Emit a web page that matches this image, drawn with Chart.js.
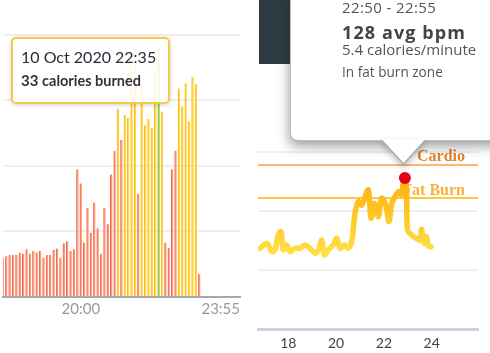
<!DOCTYPE html>
<html>
<head>
<meta charset="utf-8">
<script src="https://cdn.jsdelivr.net/npm/chart.js@4.4.1/dist/chart.umd.min.js"></script>
<style>
  body { margin:0; width:490px; height:353px; background:#fff; position:relative; overflow:hidden; font-family:Lato, sans-serif; }
  .abs { position:absolute; }
  #calWrap { left:0; top:0; width:245px; height:320px; }
  #hrWrap { left:250px; top:0; width:240px; height:353px; }
  #darkPanel { left:259px; top:0; width:32px; height:64px; background:#2d3a41; }
  #calTip { left:11px; top:37px; width:155px; height:63px; border:2px solid #f5c845; border-radius:5px;
            background:rgba(255,255,255,0.86); box-shadow:0 1px 4px rgba(0,0,0,0.18); }
  #hrTip { left:290px; top:-12px; width:230px; height:151px; border:1px solid #b9bec3; border-radius:8px;
           background:#fff; box-shadow:-1px 5px 12px rgba(30,40,50,0.45); }
  .t { position:absolute; white-space:nowrap; line-height:1; }
  .os { font-family:"Open Sans", sans-serif; }
</style>
</head>
<body>
<div id="calWrap" class="abs"><canvas id="calChart"></canvas></div>
<div id="hrWrap" class="abs"><canvas id="hrChart"></canvas></div>

<div id="darkPanel" class="abs"></div>
<div id="hrTip" class="abs"></div>
<svg class="abs" style="left:382px;top:139px;overflow:visible;filter:drop-shadow(0 3px 3px rgba(0,0,0,0.25))" width="44" height="28">
  <polygon points="0,1 21.5,25 43,1" fill="#fff"/>
  <rect x="1" y="0" width="41" height="2" fill="#fff"/>
  <polyline points="0,1.5 21.5,25 43,1.5" fill="none" stroke="#a9afb4" stroke-width="1.6"/>
</svg>
<div class="t os" style="left:342px;top:0px;font-size:15px;letter-spacing:0.4px;color:#555">22:50 - 22:55</div>
<div class="t os" style="left:342px;top:23px;font-size:18px;letter-spacing:1.1px;font-weight:bold;color:#444">128 avg bpm</div>
<div class="t os" style="left:342px;top:42.4px;font-size:15px;color:#555">5.4 calories/minute</div>
<div class="t os" style="left:342px;top:65.2px;font-size:13.6px;color:#555">In fat burn zone</div>

<div id="calTip" class="abs"></div>
<div class="t" style="left:21px;top:49px;font-size:16px;color:#2b2b38">10 Oct 2020 22:35</div>
<div class="t" style="left:21px;top:72.5px;font-size:15px;font-weight:bold;color:#333">33 <span style="font-size:14.5px">calories burned</span></div>

<script>
// calories per 5 minutes, left chart
const calTickLabels = ['20:00', '23:55'];
const calLabels = Array.from({ length: 71 }, (_, i) => {
  const m = 18 * 60 + 5 + 5 * i;
  return String(Math.floor(m / 60)).padStart(2, '0') + ':' + String(m % 60).padStart(2, '0');
});
const calories = [
  6.0, 6.2, 6.4, 6.4, 6.4, 6.7, 6.6, 7.3, 6.6, 7.0,
  6.8, 7.0, 6.0, 6.4, 6.4, 7.2, 7.4, 6.0, 8.2, 8.5,
  7.0, 7.3, 19.5, 17.3, 8.3, 13.6, 9.8, 14.4, 10.5, 6.6,
  13.6, 11.1, 18.7, 22.3, 28.7, 24.0, 27.8, 27.3, 35.2, 35.7,
  15.7, 31.6, 26.2, 27.2, 25.8, 35.0, 38.2, 28.3, 8.3, 7.5,
  19.5, 22.3, 31.8, 29.1, 32.6, 26.8, 33.6, 32.5, 3.5
];
// o = below zones, f = fat burn, s = selected
const calZones = [
  'o','o','o','o','o','o','o','o','o','o',
  'o','o','o','o','o','o','o','o','o','o',
  'o','o','o','o','o','o','o','o','o','o',
  'o','o','o','o','f','o','f','f','f','f',
  'o','f','f','f','f','f','s','f','o','o',
  'o','o','f','f','f','f','f','f','o'
];

// heart rate, right chart
const hrTicks = [18, 20, 22, 24];
const hrGrid = [50, 100, 150];
const hrTimes = [
  16.82, 17.10, 17.31, 17.44, 17.58, 17.69, 17.79, 17.93, 18.07, 18.28,
  18.49, 18.70, 18.91, 19.12, 19.26, 19.40, 19.51, 19.67, 19.88, 20.03,
  20.16, 20.34, 20.49, 20.65, 20.79, 20.93, 21.07, 21.21, 21.35, 21.46,
  21.60, 21.77, 21.91, 22.08, 22.21, 22.33, 22.46, 22.63, 22.74, 22.81,
  22.88, 22.95, 22.99, 23.16, 23.37, 23.51, 23.58, 23.69, 23.79, 23.86, 23.97
];
const hrValues = [
  68.4, 72.6, 65.5, 67, 79.7, 82.5, 67, 71.2, 65.5, 68.4,
  68.4, 71.2, 68.4, 64.1, 67, 75.4, 62.7, 67, 71.2, 76.8,
  68.4, 71.2, 68.4, 74, 98, 107.9, 105, 112, 117.8, 93.8,
  106.5, 95.2, 110.8, 105, 90.9, 106.5, 112, 116.4, 113.6, 123.5,
  128, 117.8, 83.9, 79.7, 76.8, 75.4, 84.5, 72.6, 78.2, 70.3, 69.7
];
const zoneNames = ['Fat Burn', 'Cardio'];
const zoneBpm = [111, 139];

const zoneFill = { o: '#fd9d80', f: '#ffd64a', s: '#a6d04e' };
const zoneEdge = { o: '#f2664a', f: '#fdbd10', s: '#8cbf35' };

new Chart(document.getElementById('calChart'), {
  type: 'bar',
  data: {
    labels: calLabels,
    datasets: [{
      data: calories,
      backgroundColor: calZones.map(z => zoneFill[z]),
      borderColor: calZones.map(z => zoneEdge[z]),
      borderWidth: { left: 1, right: 0, top: 0, bottom: 0 },
      barThickness: 2
    }]
  },
  options: {
    responsive: true,
    maintainAspectRatio: false,
    animation: false,
    events: [],
    layout: { autoPadding: false, padding: { left: 1, right: 5, top: 0, bottom: 0 } },
    plugins: { legend: { display: false }, tooltip: { enabled: false } },
    scales: {
      x: {
        offset: false,
        grid: { display: false, drawTicks: false },
        border: { color: '#a9a9a9', width: 2 },
        ticks: {
          autoSkip: false, maxRotation: 0, minRotation: 0, align: 'inner', padding: 3,
          color: '#999', font: { family: 'Lato', size: 15 },
          callback: (v, i) => calTickLabels.includes(calLabels[i]) ? calLabels[i] : ''
        },
        afterFit: s => { s.height = 23; }
      },
      y: {
        min: 0, max: 45.3,
        ticks: { display: false, stepSize: 10, includeBounds: false },
        grid: { color: '#efefef', lineWidth: 2, drawTicks: false },
        border: { display: false },
        afterFit: s => { s.width = 0; }
      }
    }
  }
});

const zonePlugin = {
  id: 'zones',
  beforeDatasetsDraw(chart) {
    const { ctx, chartArea, scales: { y } } = chart;
    const lineColors = ['#ffb300', '#f7a04e'];
    const textColors = ['#fcb03c', '#e5822b'];
    ctx.save();
    zoneNames.forEach((name, i) => {
      const py = y.getPixelForValue(zoneBpm[i]);
      ctx.strokeStyle = lineColors[i];
      ctx.lineWidth = 1.5;
      ctx.beginPath();
      ctx.moveTo(chartArea.left, py);
      ctx.lineTo(chartArea.right, py);
      ctx.stroke();
      ctx.fillStyle = textColors[i];
      ctx.font = 'bold 16px "Liberation Serif"';
      ctx.textAlign = 'right';
      ctx.textBaseline = 'alphabetic';
      ctx.fillText(name, chartArea.right - 13, py - 3.5);
    });
    ctx.restore();
  }
};

const peakIdx = hrValues.indexOf(Math.max(...hrValues));

new Chart(document.getElementById('hrChart'), {
  type: 'line',
  data: {
    datasets: [
      {
        data: [{ x: hrTimes[peakIdx], y: hrValues[peakIdx] }],
        showLine: false,
        pointRadius: 6,
        pointBackgroundColor: '#e2001a',
        pointBorderWidth: 0
      },
      {
        data: hrTimes.map((t, i) => ({ x: t, y: hrValues[i] })),
        borderWidth: 5.5,
        tension: 0.35,
        pointRadius: 0,
        borderCapStyle: 'round',
        borderJoinStyle: 'round',
        borderColor: ctx => {
          const { chart } = ctx;
          if (!chart.chartArea) return '#ffd43a';
          const y = chart.scales.y;
          const g = chart.ctx.createLinearGradient(0, y.getPixelForValue(60), 0, y.getPixelForValue(125));
          g.addColorStop(0, '#ffe24a');
          g.addColorStop(0.5, '#ffcb2a');
          g.addColorStop(1, '#ffb014');
          return g;
        }
      }
    ]
  },
  options: {
    responsive: true,
    maintainAspectRatio: false,
    animation: false,
    events: [],
    layout: { autoPadding: false, padding: { left: 8, right: 12, top: 0, bottom: 0 } },
    plugins: { legend: { display: false }, tooltip: { enabled: false } },
    scales: {
      x: {
        type: 'linear', min: 16.73, max: 25.94,
        grid: { display: false, drawTicks: false },
        border: { color: '#c8d2de', width: 3 },
        ticks: { color: '#444', font: { family: 'Lato', size: 14 }, padding: 6, includeBounds: false },
        afterBuildTicks: s => { s.ticks = hrTicks.map(v => ({ value: v })); },
        afterFit: s => { s.height = 24; }
      },
      y: {
        min: 0, max: 278.8,
        ticks: { display: false },
        grid: { color: '#efefef', lineWidth: 2, drawTicks: false },
        border: { display: false },
        afterBuildTicks: s => { s.ticks = hrGrid.map(v => ({ value: v })); },
        afterFit: s => { s.width = 0; }
      }
    }
  },
  plugins: [zonePlugin]
});
</script>
</body>
</html>
